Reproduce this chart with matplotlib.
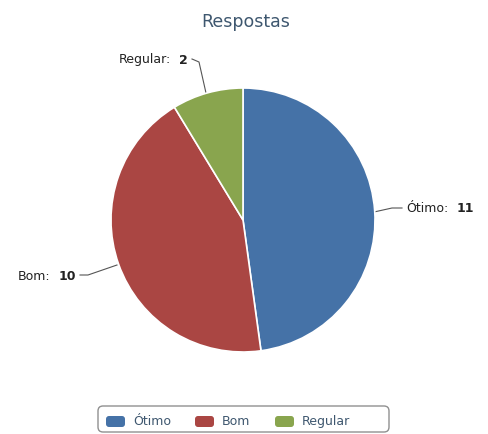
import numpy as np
import matplotlib.pyplot as plt
from matplotlib.patches import FancyBboxPatch

categories = ["Ótimo", "Bom", "Regular"]
values = [11, 10, 2]
colors = ["#4572A7", "#AA4643", "#89A54E"]

W, H = 489, 434
fig = plt.figure(figsize=(W / 100, H / 100), dpi=100)
ax = fig.add_axes([0, 0, 1, 1])
ax.set_xlim(0, W)
ax.set_ylim(H, 0)
ax.set_aspect("equal")
ax.axis("off")

cx, cy, r = 243, 220, 132
pie_ax = fig.add_axes([(cx - r) / W, 1 - (cy + r) / H, 2 * r / W, 2 * r / H])
pie_ax.pie(values, colors=colors, startangle=90, counterclock=False,
           wedgeprops=dict(edgecolor="white", linewidth=1.2))
pie_ax.set_xlim(-1, 1)
pie_ax.set_ylim(-1, 1)
pie_ax.set_aspect("equal")

ax.text(W / 2 + 1, 22, "Respostas", ha="center", va="center", fontsize=12.5,
        color="#3E576F")

fs = 9
lab_color = "#222222"
# connectors (pixel coords) and label anchor
connectors = {
    "Ótimo": ([374, 392, 402], [212, 208, 208]),
    "Bom": ([117, 88, 80], [265, 275, 275]),
    "Regular": ([206, 199, 192], [93, 62, 59]),
}
anchors = {"Ótimo": (406, 209, "left"), "Bom": (76, 276, "right"),
           "Regular": (188, 60, "right")}

for name, val in zip(categories, values):
    xs, ys = connectors[name]
    ax.plot(xs, ys, color="#555555", lw=0.8)
    tx, ty, ha = anchors[name]
    if ha == "left":
        t = ax.text(tx, ty, f"{name}:", ha="left", va="center", fontsize=fs,
                    color=lab_color)
        fig.canvas.draw()
        bb = t.get_window_extent().transformed(ax.transData.inverted())
        ax.text(bb.x1 + 8, ty, f"{val}", ha="left", va="center", fontsize=fs,
                fontweight="bold", color=lab_color)
    else:
        t = ax.text(tx, ty, f"{val}", ha="right", va="center", fontsize=fs,
                    fontweight="bold", color=lab_color)
        fig.canvas.draw()
        bb = t.get_window_extent().transformed(ax.transData.inverted())
        ax.text(bb.x0 - 8, ty, f"{name}:", ha="right", va="center", fontsize=fs,
                color=lab_color)

# legend
box = FancyBboxPatch((98, 406), 291, 26, boxstyle="round,pad=0,rounding_size=5",
                     fc="white", ec="#909090", lw=1)
ax.add_patch(box)
leg_x = [106, 195, 275]
for x, name, c in zip(leg_x, categories, colors):
    ax.add_patch(FancyBboxPatch((x, 416), 19, 11, boxstyle="round,pad=0,rounding_size=3",
                                fc=c, ec="none"))
    ax.text(x + 27, 421.5, name, ha="left", va="center", fontsize=9, color="#3E576F")

fig.savefig("out.png", dpi=100)
